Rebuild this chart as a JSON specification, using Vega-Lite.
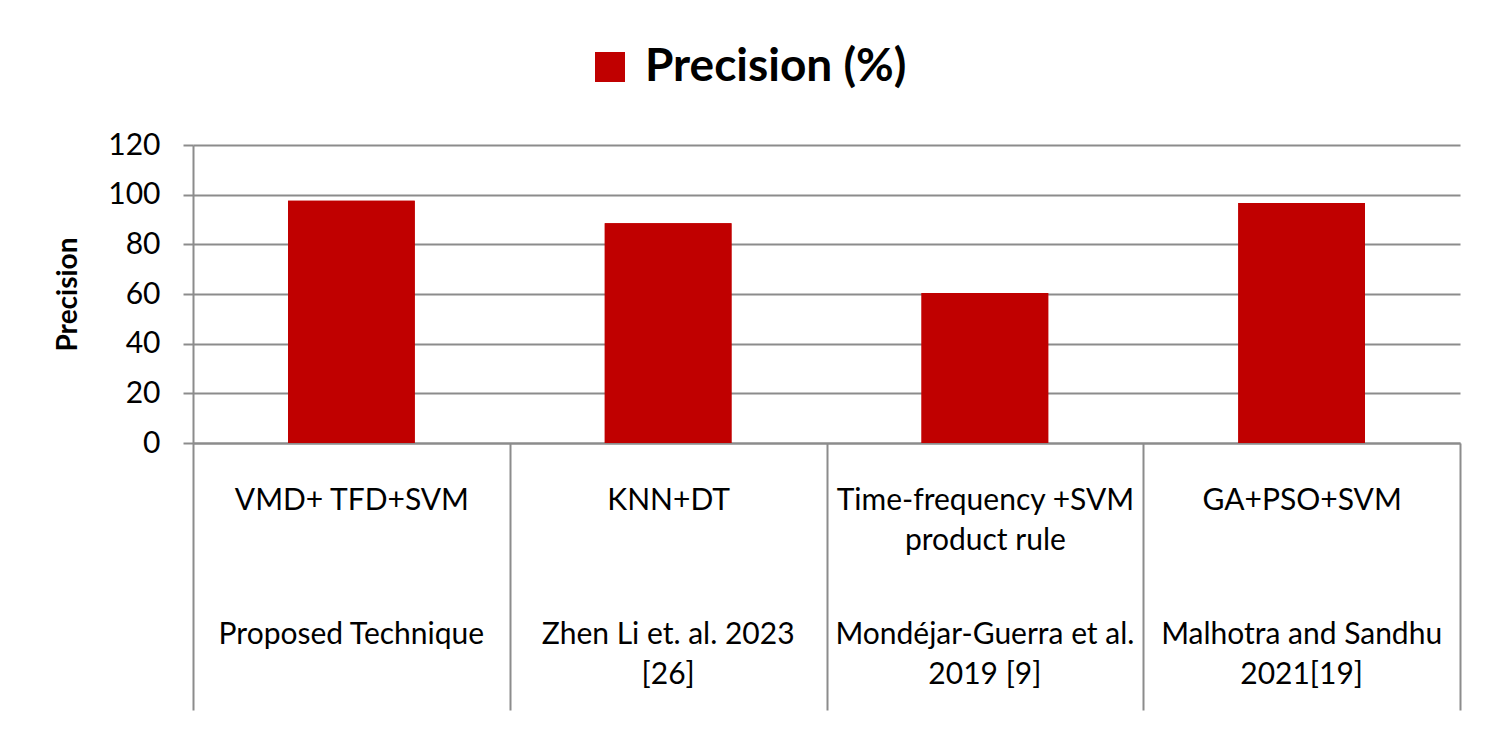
{
  "$schema": "https://vega.github.io/schema/vega-lite/v6.json",
  "autosize": {"type": "none"},
  "padding": {"left": 193, "top": 145, "right": 40, "bottom": 288},
  "width": 1267,
  "height": 298,
  "background": "white",
  "config": {
    "font": "Lato",
    "view": {"stroke": null},
    "axis": {"labelColor": "black", "titleColor": "black"}
  },
  "data": {
    "values": [
      {"method": "VMD+ TFD+SVM||Proposed Technique|", "series": "Precision (%)", "precision": 97.6},
      {"method": "KNN+DT||Zhen Li et. al.  2023|[26]", "series": "Precision (%)", "precision": 88.5},
      {"method": "Time-frequency +SVM|product rule|Mondéjar-Guerra et al.|2019 [9]", "series": "Precision (%)", "precision": 60.4},
      {"method": "GA+PSO+SVM||Malhotra and  Sandhu|2021[19]", "series": "Precision (%)", "precision": 96.6}
    ]
  },
  "encoding": {
    "y": {
      "field": "precision",
      "type": "quantitative",
      "scale": {"domain": [0, 120]},
      "axis": {
        "title": "Precision",
        "titleFontSize": 28,
        "titleFontWeight": "bold",
        "titleAngle": -90,
        "titleBaseline": "middle",
        "titleX": -125,
        "titleY": 149,
        "values": [0, 20, 40, 60, 80, 100, 120],
        "labelFontSize": 30,
        "labelPadding": 23,
        "tickSize": 10,
        "tickWidth": 2,
        "tickColor": "#8c8c8c",
        "domainColor": "#8c8c8c",
        "domainWidth": 2,
        "gridColor": "#8c8c8c",
        "gridWidth": 2
      }
    },
    "color": {
      "field": "series",
      "type": "nominal",
      "scale": {"range": ["#c00000"]},
      "legend": {
        "title": null,
        "orient": "none",
        "legendX": 394,
        "legendY": -101,
        "symbolType": "square",
        "symbolSize": 900,
        "symbolOpacity": 1,
        "symbolStrokeWidth": 0,
        "labelFontSize": 46,
        "labelFontWeight": "bold",
        "labelColor": "black",
        "labelOffset": 12,
        "labelLimit": 600
      }
    }
  },
  "layer": [
    {
      "mark": {"type": "bar", "width": {"band": 0.4}},
      "encoding": {
        "x": {
          "field": "method",
          "type": "nominal",
          "sort": null,
          "scale": {"paddingInner": 0, "paddingOuter": 0},
          "axis": {
            "title": null,
            "orient": "bottom",
            "labelAngle": 0,
            "labelFontSize": 30,
            "labelLimit": 600,
            "labelOverlap": false,
            "labelBaseline": "top",
            "labelLineHeight": 40,
            "labelPadding": -225,
            "labelExpr": "split(datum.label,'|')[1] ? [split(datum.label,'|')[0], split(datum.label,'|')[1]] : split(datum.label,'|')[0]",
            "tickBand": "extent",
            "tickSize": 267,
            "tickWidth": 2,
            "tickColor": "#8c8c8c",
            "domainColor": "#8c8c8c",
            "domainWidth": 2,
            "grid": false
          }
        }
      }
    },
    {
      "mark": {"type": "bar", "width": {"band": 0.4}},
      "encoding": {
        "x": {
          "field": "method",
          "type": "nominal",
          "sort": null,
          "axis": {
            "title": null,
            "orient": "bottom",
            "labelAngle": 0,
            "labelFontSize": 30,
            "labelLimit": 600,
            "labelOverlap": false,
            "labelBaseline": "top",
            "labelLineHeight": 40,
            "labelPadding": 176,
            "labelExpr": "split(datum.label,'|')[3] ? [split(datum.label,'|')[2], split(datum.label,'|')[3]] : split(datum.label,'|')[2]",
            "ticks": false,
            "tickSize": 0,
            "domain": false,
            "grid": false
          }
        }
      }
    }
  ],
  "resolve": {"axis": {"x": "independent"}}
}
